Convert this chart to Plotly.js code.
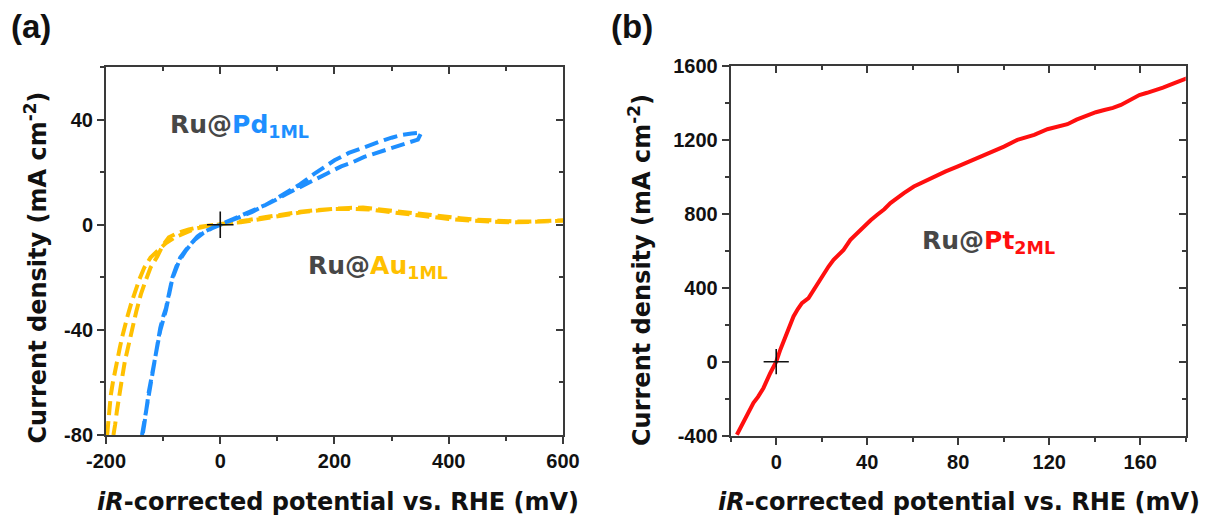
<!DOCTYPE html>
<html>
<head>
<meta charset="utf-8">
<script src="https://cdn.plot.ly/plotly-3.0.1.min.js"></script>
<style>
  html, body { margin: 0; padding: 0; background: #ffffff; }
  #chart { width: 1206px; height: 518px; }
</style>
</head>
<body>
<div id="chart"></div>
<script>
// ---- Panel (a): Ru@Pd1ML polarisation loop (mV vs RHE, mA cm-2) ----
const pdPotential = [-137, -133, -128, -124.5, -120, -115.7, -110, -105, -100, -95, -89, -83.6, -77, -70, -60, -50, -40, -30, -20, -10, 0, 12, 25, 40, 60, 80, 95, 115, 140, 165, 185, 200, 225, 252, 270, 287, 300, 317, 335, 352,
  346, 330, 317, 300, 287, 270, 252, 230, 211.8, 188, 165, 140, 115, 95, 75, 55, 35, 15, 0, -15, -30, -45, -60, -72, -84, -95, -105, -116, -125, -133, -136];
const pdCurrent = [-80, -75, -68, -62.3, -57, -52, -45, -39.3, -35, -31.7, -25.5, -20, -16, -12.5, -9.5, -6.8, -4.5, -2.9, -1.7, -0.8, 0, 1.1, 2.2, 3.6, 5.4, 7.6, 9.5, 12, 15.4, 19.4, 22.5, 24.5, 27.3, 29.6, 31, 32.2, 33.1, 34.1, 34.7, 35,
  32.4, 31.3, 30.2, 29.2, 28.3, 27.1, 25.8, 23.6, 22.2, 19.6, 17.2, 14.6, 11.6, 9.2, 6.8, 4.8, 3.0, 1.3, 0.1, -1.4, -3.2, -5.8, -9.8, -13.8, -20.6, -32.5, -40.2, -53, -63.5, -76, -80];

// ---- Panel (a): Ru@Au1ML polarisation loop ----
const auPotential = [-198, -196, -193.5, -191.6, -188, -184, -180, -176, -172, -168, -162, -156, -150.7, -142, -133, -122, -110, -95, -80, -62, -45, -25, -8, 10, 36, 60, 83, 110, 141.6, 170, 200, 235, 260, 287, 320, 352, 380, 400, 430, 458, 490, 517, 545, 575, 600,
  600, 570, 540, 510, 480, 450, 420, 390, 360, 330, 300, 275, 250, 225, 200, 170, 140, 110, 80, 50, 25, 5, -15, -35, -55, -75, -90, -101, -110, -122, -131, -139, -147, -153.7, -160, -167, -172, -177, -181, -184, -187];
const auCurrent = [-80, -74, -68, -64.8, -60, -55, -52, -47, -43, -39.3, -34.5, -30, -26.5, -21, -16.3, -12.5, -10, -7, -4.9, -3, -1.6, -0.6, 0, 0.5, 0.9, 1.8, 2.8, 3.8, 4.7, 5.4, 6, 6, 5.8, 5.1, 4.2, 3.4, 2.7, 2.2, 1.7, 1.3, 1.0, 0.9, 1.0, 1.2, 1.5,
  1.7, 1.4, 1.2, 1.3, 1.5, 1.9, 2.5, 3.2, 4.0, 4.8, 5.5, 6.1, 6.5, 6.4, 6.2, 5.6, 4.9, 4.0, 2.9, 1.8, 1.0, 0.4, -0.1, -0.8, -1.8, -3.2, -4.8, -8, -12, -16.3, -21.5, -26.5, -33, -39.3, -45.5, -52, -58.5, -64.8, -71, -76, -80];

// ---- Panel (b): Ru@Pt2ML polarisation curve ----
const ptPotential = [-17.3, -16, -14.4, -12, -10, -8, -5.6, -2.6, 0, 1.8, 4.7, 7.6, 9.5, 11.3, 14.2, 16.4, 18.5, 20.8, 23, 25.2, 27.5, 29.6, 32.6, 35.5, 38.5, 41.5, 44.4, 47.5, 50.2, 53, 56.1, 60.5, 65, 69.3, 74.5, 79.6, 85, 89.9, 95, 100.1, 106, 113.4, 119.2, 124, 128, 132, 136.9, 140.5, 144.2, 148, 151.5, 155.5, 159.6, 163, 166.2, 170, 175, 180.5];
const ptCurrent = [-395, -365, -322, -275, -223, -190, -142, -61, 0, 65, 155, 245, 285, 317, 344, 389, 430, 479, 515, 551, 580, 605, 659, 695, 731, 765, 795, 825, 858, 885, 912, 948, 975, 1002, 1030, 1056, 1083, 1110, 1137, 1164, 1200, 1227, 1258, 1272, 1285, 1310, 1335, 1350, 1362, 1373, 1389, 1415, 1443, 1455, 1466, 1483, 1507, 1533];

// Reference point (0 mV, 0 mA cm-2) marked in both panels
const originPotential = [0];
const originCurrent = [0];

// Tick values and labels
const aXTicks = [-200, 0, 200, 400, 600];
const aXTickText = ['-200', '0', '200', '400', '600'];
const aYTicks = [-80, -40, 0, 40];
const aYTickText = ['-80', '-40', '0', '40'];
const bXTicks = [0, 40, 80, 120, 160];
const bXTickText = ['0', '40', '80', '120', '160'];
const bYTicks = [-400, 0, 400, 800, 1200, 1600];
const bYTickText = ['-400', '0', '400', '800', '1200', '1600'];

const blue = '#1e8fff';
const gold = '#ffc000';
const red = '#ff0f0f';
const grey = '#474747';
const axisColor = '#3a3a3a';
const titleFont = {family: 'DejaVu Sans, sans-serif', size: 24, weight: 'bold', color: '#111111'};
const labelFont = {family: 'DejaVu Sans, sans-serif', size: 25, weight: 'bold', color: grey};
const tickFont = {family: 'Liberation Sans, Arial, sans-serif', size: 20, weight: 'bold', color: '#111111'};

const traces = [
  {x: auPotential, y: auCurrent, xaxis: 'x', yaxis: 'y', mode: 'lines',
   line: {color: gold, width: 4, dash: '14px,6px'}, hoverinfo: 'skip'},
  {x: pdPotential, y: pdCurrent, xaxis: 'x', yaxis: 'y', mode: 'lines',
   line: {color: blue, width: 4, dash: '14px,6px'}, hoverinfo: 'skip'},
  {x: originPotential, y: originCurrent, xaxis: 'x', yaxis: 'y', mode: 'markers',
   marker: {symbol: 'cross-thin', size: 19, color: '#111111', line: {color: '#111111', width: 1.6}}, hoverinfo: 'skip'},
  {x: ptPotential, y: ptCurrent, xaxis: 'x2', yaxis: 'y2', mode: 'lines',
   line: {color: red, width: 4}, hoverinfo: 'skip'},
  {x: originPotential, y: originCurrent, xaxis: 'x2', yaxis: 'y2', mode: 'markers',
   marker: {symbol: 'cross-thin', size: 18, color: '#111111', line: {color: '#111111', width: 1.6}}, hoverinfo: 'skip'},
  // empty traces so the mirrored frame axes get their own subplots
  {x: [], y: [], xaxis: 'x3', yaxis: 'y3', hoverinfo: 'skip'},
  {x: [], y: [], xaxis: 'x4', yaxis: 'y4', hoverinfo: 'skip'}
];

function mainAxis(domain, range, tickvals, ticktext, minorStep, anchor) {
  return {
    domain: domain, range: range, anchor: anchor, autorange: false,
    tickmode: 'array', tickvals: tickvals, ticktext: ticktext,
    ticks: 'outside', ticklen: 7, tickwidth: 2, tickcolor: axisColor,
    minor: {dtick: minorStep, ticks: 'outside', ticklen: 4, tickwidth: 2, tickcolor: axisColor, showgrid: false},
    showline: true, linecolor: axisColor, linewidth: 2, mirror: false,
    showgrid: false, zeroline: false, tickfont: tickFont, fixedrange: true
  };
}
function frameAxis(over, range, tickvals, minorStep, side, anchor) {
  return {
    overlaying: over, side: side, anchor: anchor, range: range, autorange: false,
    tickmode: 'array', tickvals: tickvals, showticklabels: false,
    ticks: 'inside', ticklen: 7, tickwidth: 2, tickcolor: axisColor,
    minor: {dtick: minorStep, ticks: 'inside', ticklen: 4, tickwidth: 2, tickcolor: axisColor, showgrid: false},
    showline: true, linecolor: axisColor, linewidth: 2,
    showgrid: false, zeroline: false, fixedrange: true
  };
}

const aXRange = [-200, 600], aYRange = [-80, 60];
const bXRange = [-20, 180], bYRange = [-400, 1600];

const layout = {
  width: 1206, height: 518,
  margin: {l: 0, r: 0, t: 0, b: 0},
  paper_bgcolor: '#ffffff', plot_bgcolor: '#ffffff',
  showlegend: false,
  xaxis: mainAxis([0.0879, 0.4668], aXRange, aXTicks, aXTickText, 100, 'y'),
  yaxis: mainAxis([0.1602, 0.8707], aYRange, aYTicks, aYTickText, 20, 'x'),
  xaxis2: mainAxis([0.6059, 0.9832], bXRange, bXTicks, bXTickText, 20, 'y2'),
  yaxis2: mainAxis([0.1590, 0.8726], bYRange, bYTicks, bYTickText, 200, 'x2'),
  xaxis3: frameAxis('x', aXRange, aXTicks, 100, 'top', 'y3'),
  yaxis3: frameAxis('y', aYRange, aYTicks, 20, 'right', 'x3'),
  xaxis4: frameAxis('x2', bXRange, bXTicks, 20, 'top', 'y4'),
  yaxis4: frameAxis('y2', bYRange, bYTicks, 200, 'right', 'x4'),
  annotations: [
    {text: '(a)', xref: 'paper', yref: 'paper', x: 0.0257, y: 0.948, xanchor: 'center', yanchor: 'middle', showarrow: false,
     font: {family: 'Liberation Sans, Arial, sans-serif', size: 33, weight: 'bold', color: '#111111'}},
    {text: '(b)', xref: 'paper', yref: 'paper', x: 0.524, y: 0.948, xanchor: 'center', yanchor: 'middle', showarrow: false,
     font: {family: 'Liberation Sans, Arial, sans-serif', size: 33, weight: 'bold', color: '#111111'}},
    {text: '<i>iR</i>-corrected potential vs. RHE (mV)', xref: 'paper', yref: 'paper', x: 0.2803, y: 0.031, xanchor: 'center', yanchor: 'middle', showarrow: false, font: titleFont},
    {text: '<i>iR</i>-corrected potential vs. RHE (mV)', xref: 'paper', yref: 'paper', x: 0.7955, y: 0.031, xanchor: 'center', yanchor: 'middle', showarrow: false, font: titleFont},
    {text: 'Current density (mA cm<sup>-2</sup>)', xref: 'paper', yref: 'paper', x: 0.0299, y: 0.4836, textangle: -90, xanchor: 'center', yanchor: 'middle', showarrow: false, font: titleFont},
    {text: 'Current density (mA cm<sup>-2</sup>)', xref: 'paper', yref: 'paper', x: 0.5307, y: 0.4788, textangle: -90, xanchor: 'center', yanchor: 'middle', showarrow: false, font: titleFont},
    {text: 'Ru@<span style="color:' + blue + '">Pd<sub>1ML</sub></span>', xref: 'x', yref: 'y', x: -92, y: 37.5, xanchor: 'left', yanchor: 'middle', showarrow: false, font: labelFont},
    {text: 'Ru@<span style="color:' + gold + '">Au<sub>1ML</sub></span>', xref: 'x', yref: 'y', x: 150, y: -16, xanchor: 'left', yanchor: 'middle', showarrow: false, font: labelFont},
    {text: 'Ru@<span style="color:' + red + '">Pt<sub>2ML</sub></span>', xref: 'x2', yref: 'y2', x: 63.4, y: 650, xanchor: 'left', yanchor: 'middle', showarrow: false, font: labelFont}
  ]
};

Plotly.newPlot('chart', traces, layout, {staticPlot: true, displayModeBar: false});
</script>
</body>
</html>
